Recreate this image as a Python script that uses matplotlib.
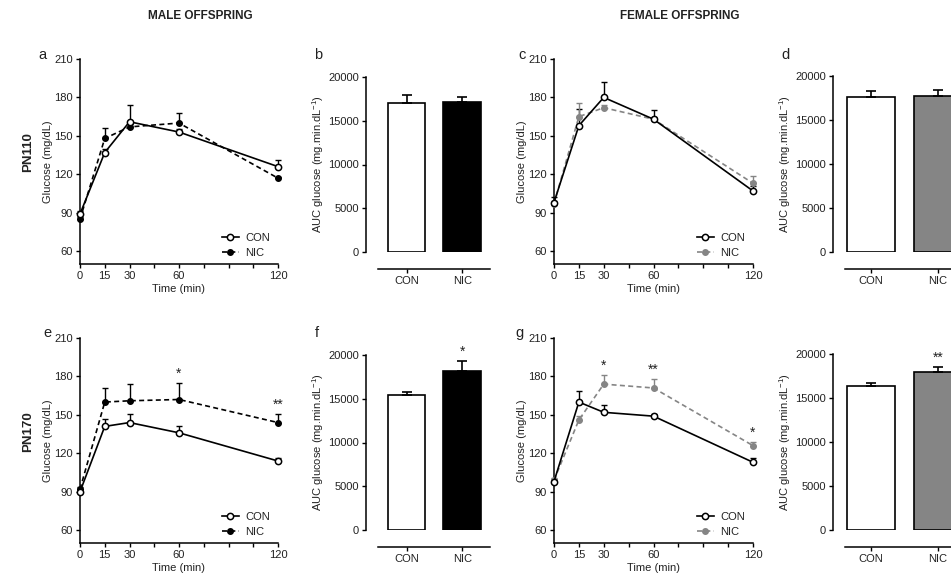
import matplotlib
matplotlib.use("Agg")
import matplotlib.pyplot as plt
import numpy as np

plt.rcParams['font.family'] = ['Liberation Sans', 'DejaVu Sans']
plt.rcParams['mathtext.fontset'] = 'custom'
plt.rcParams['mathtext.rm'] = 'Liberation Sans'
plt.rcParams['mathtext.it'] = 'Liberation Sans:italic'

# time points of the glucose tolerance test (min)
time = [0, 15, 30, 60, 120]
time_ticks = [0, 15, 30, 45, 60, 75, 90, 105, 120]
time_labels = ['0', '15', '30', '', '60', '', '', '', '120']
glucose_ticks = [60, 90, 120, 150, 180, 210]
auc_ticks = [0, 5000, 10000, 15000, 20000]
groups = ['CON', 'NIC']

# a: PN110 male
a_con = [89, 137, 161, 153, 126]
a_con_err = [2, 3, 13, 2, 5]
a_nic = [85, 148, 157, 160, 117]
a_nic_err = [2, 8, 2, 8, 1]
# b: AUC PN110 male
b_auc = [17000, 17100]
b_err = [900, 600]
# c: PN110 female
c_con = [98, 158, 180, 163, 107]
c_con_err = [4, 13, 12, 7, 4]
c_nic = [97, 165, 172, 163, 113]
c_nic_err = [2, 11, 2, 2, 6]
# d: AUC PN110 female
d_auc = [17600, 17700]
d_err = [700, 750]
# e: PN170 male
e_con = [90, 141, 144, 136, 114]
e_con_err = [2, 6, 7, 5, 2]
e_nic = [92, 160, 161, 162, 144]
e_nic_err = [2, 11, 13, 13, 7]
e_stars = [(3, '*'), (4, '**')]
# f: AUC PN170 male
f_auc = [15400, 18200]
f_err = [400, 1150]
f_star = '*'
# g: PN170 female
g_con = [98, 160, 152, 149, 113]
g_con_err = [2, 9, 6, 2, 3]
g_nic = [99, 146, 174, 171, 126]
g_nic_err = [2, 3, 7, 7, 3]
g_stars = [(2, '*'), (3, '**'), (4, '*')]
# h: AUC PN170 female
h_auc = [16400, 18000]
h_err = [250, 500]
h_star = '**'

W, H = 951, 577
GRAY = '#858585'
TXT = '#222222'
FS = 8

fig = plt.figure(figsize=(W / 100, H / 100), dpi=100)


def px_axes(left, top, right, bottom):
    return fig.add_axes([left / W, 1 - bottom / H, (right - left) / W, (bottom - top) / H])


def style(ax):
    for s in ['top', 'right']:
        ax.spines[s].set_visible(False)
    for s in ['left', 'bottom']:
        ax.spines[s].set_linewidth(1.1)
    ax.tick_params(direction='out', length=3, width=1, labelsize=FS, labelcolor=TXT, pad=2)


def glucose_panel(ax, con, con_err, nic, nic_err, nic_color, stars=()):
    zero = np.zeros(len(time))
    for vals, err, col in [(con, con_err, 'black'), (nic, nic_err, nic_color)]:
        eb = ax.errorbar(time, vals, yerr=[zero, err], fmt='none', ecolor=col,
                         elinewidth=1, capsize=2, capthick=1, zorder=2)
        for art in eb.lines[1] + eb.lines[2]:
            art.set_clip_on(False)
    l_nic, = ax.plot(time, nic, ls=(0, (3, 2)), color=nic_color, lw=1.2, marker='o',
                     ms=4, mfc=nic_color, mec=nic_color, zorder=3, clip_on=False)
    l_con, = ax.plot(time, con, '-', color='black', lw=1.2, marker='o', ms=4.5,
                     mfc='white', mec='black', mew=1.1, zorder=4, clip_on=False)
    for i, s in stars:
        ax.text(time[i], nic[i] + nic_err[i] + 1.5, s, ha='center', va='bottom',
                fontsize=10, color=TXT)
    ax.set_xlim(0, 120)
    ax.set_ylim(50, 210)
    ax.set_xticks(time_ticks)
    ax.set_xticklabels(time_labels)
    ax.set_yticks(glucose_ticks)
    style(ax)
    ax.set_ylabel('Glucose (mg/dL)', fontsize=FS, color=TXT, labelpad=1)
    ax.set_xlabel('Time (min)', fontsize=FS, color=TXT, labelpad=2)
    ax.legend([l_con, l_nic], groups, loc='lower right', frameon=False, fontsize=FS,
              handlelength=1.5, handletextpad=0.6, labelspacing=0.5,
              bbox_to_anchor=(1.01, -0.02), labelcolor=TXT)


def auc_panel(ax, vals, errs, nic_color, width, xlim, xstart, star=None):
    x = np.arange(len(groups))
    ax.bar(x, vals, width=width, color=['white', nic_color], edgecolor='black', lw=1.2,
           yerr=[[0, 0], errs], capsize=3.3,
           error_kw=dict(elinewidth=1.2, capthick=1.2, ecolor='black'))
    if star:
        ax.text(1, vals[1] + errs[1] + 250, star, ha='center', va='bottom', fontsize=10,
                color=TXT, clip_on=False)
    ax.set_xlim(*xlim)
    ax.set_ylim(0, 20000)
    ax.set_xticks(x)
    ax.set_xticklabels(groups)
    ax.set_yticks(auc_ticks)
    style(ax)
    ax.spines['bottom'].set_position(('outward', 12))
    ax.spines['bottom'].set_bounds(xstart, xlim[1])
    ax.set_ylabel('AUC glucose (mg.min.dL$^{-1}$)', fontsize=FS, color=TXT, labelpad=2)


ax_a = px_axes(80, 59, 278, 264)
glucose_panel(ax_a, a_con, a_con_err, a_nic, a_nic_err, 'black')
ax_b = px_axes(366, 77, 490, 252)
auc_panel(ax_b, b_auc, b_err, 'black', 0.68, (-0.73, 1.5), -0.51)
ax_c = px_axes(554, 59, 753, 264)
glucose_panel(ax_c, c_con, c_con_err, c_nic, c_nic_err, GRAY)
ax_d = px_axes(833, 76, 978, 252)
auc_panel(ax_d, d_auc, d_err, GRAY, 0.725, (-0.57, 1.6), -0.39)

ax_e = px_axes(80, 338, 278, 543)
glucose_panel(ax_e, e_con, e_con_err, e_nic, e_nic_err, 'black', e_stars)
ax_f = px_axes(366, 355, 490, 530)
auc_panel(ax_f, f_auc, f_err, 'black', 0.68, (-0.73, 1.5), -0.51, f_star)
ax_g = px_axes(554, 338, 753, 543)
glucose_panel(ax_g, g_con, g_con_err, g_nic, g_nic_err, GRAY, g_stars)
ax_h = px_axes(833, 354, 978, 530)
auc_panel(ax_h, h_auc, h_err, GRAY, 0.725, (-0.57, 1.6), -0.39, h_star)

# headings, row labels and panel letters
fig.text(200 / W, 1 - 16 / H, 'MALE OFFSPRING', ha='center', va='center',
         fontsize=8.5, fontweight='bold', color=TXT)
fig.text(680 / W, 1 - 16 / H, 'FEMALE OFFSPRING', ha='center', va='center',
         fontsize=8.5, fontweight='bold', color=TXT)
fig.text(28 / W, 1 - 152 / H, 'PN110', ha='center', va='center', rotation=90,
         fontsize=9.5, fontweight='bold', color=TXT)
fig.text(28 / W, 1 - 432 / H, 'PN170', ha='center', va='center', rotation=90,
         fontsize=9.5, fontweight='bold', color=TXT)
for letter, (lx, ly) in zip('abcdefg', [(42, 55), (318, 55), (522, 55), (785, 55),
                                         (47, 333), (317, 333), (520, 333)]):
    fig.text(lx / W, 1 - ly / H, letter, ha='center', va='center', fontsize=10.5, color=TXT)

fig.savefig('out.png', dpi=100)
